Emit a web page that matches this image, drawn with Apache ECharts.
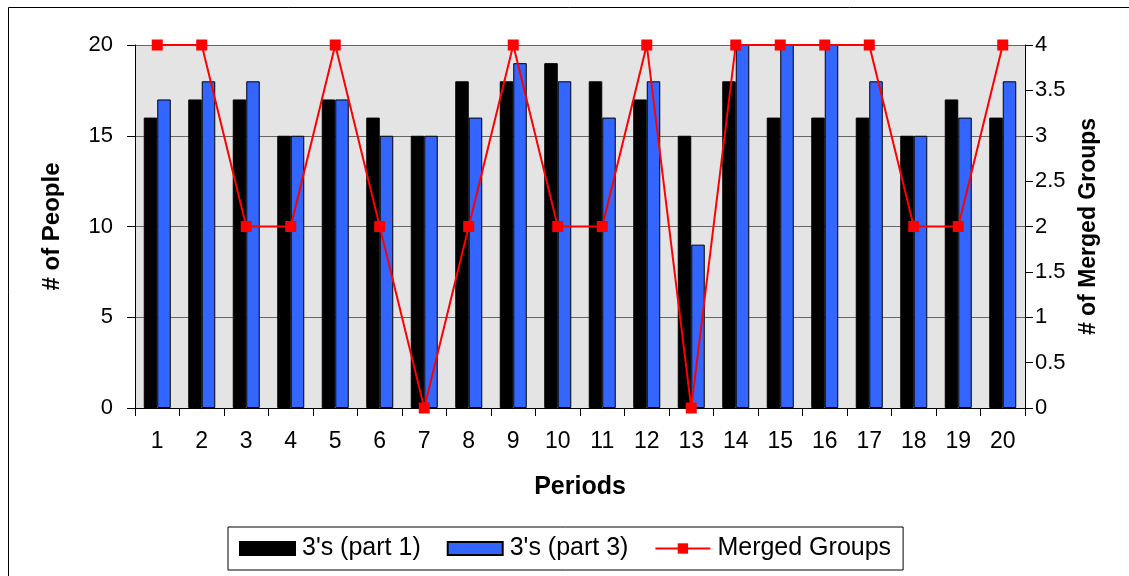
<!DOCTYPE html>
<html>
<head>
<meta charset="utf-8">
<script src="https://cdn.jsdelivr.net/npm/echarts@6/dist/echarts.min.js"></script>
<style>
  html, body { margin: 0; padding: 0; background: #fff; }
  #chart { width: 1129px; height: 576px; }
</style>
</head>
<body>
<div id="chart"></div>
<script>
// Periods on the x axis
const periods = ['1','2','3','4','5','6','7','8','9','10','11','12','13','14','15','16','17','18','19','20'];
// Number of people per period
const part1 = [16,17,17,15,17,16,15,18,18,19,18,17,15,18,16,16,16,15,17,16];
const part3 = [17,18,18,15,17,15,15,16,19,18,16,18,9,20,20,20,18,15,16,18];
// Number of merged groups per period (right axis)
const merged = [4,4,2,2,4,2,0,2,4,2,2,4,0,4,4,4,4,2,2,4];

const FONT = 'Liberation Sans, Arial, sans-serif';

const chart = echarts.init(document.getElementById('chart'), null, { renderer: 'canvas' });

chart.setOption({
  backgroundColor: '#ffffff',
  animation: false,
  textStyle: { fontFamily: FONT, color: '#000' },
  graphic: [{
    type: 'rect',
    shape: { x: 8.5, y: 7.5, width: 1130, height: 580 },
    style: { fill: 'none', stroke: '#000', lineWidth: 1 },
    silent: true,
    z: -10
  }],
  grid: {
    left: 135, right: 104, top: 45, bottom: 168,
    show: true,
    backgroundColor: '#e4e4e4',
    borderWidth: 0
  },
  legend: {
    left: 228, top: 527,
    padding: [8, 12, 8, 11],
    itemGap: 26,
    itemWidth: 55, itemHeight: 13,
    borderColor: '#000', borderWidth: 1,
    textStyle: { fontFamily: FONT, fontSize: 25, color: '#000', lineHeight: 27, padding: [0, 0, 0, 2] },
    data: [
      { name: "3's (part 1)", icon: 'rect' },
      { name: "3's (part 3)", icon: 'rect' },
      { name: 'Merged Groups' }
    ]
  },
  xAxis: {
    type: 'category',
    data: periods,
    boundaryGap: true,
    name: 'Periods',
    nameLocation: 'middle',
    nameGap: 67,
    nameTextStyle: { fontFamily: FONT, fontSize: 25, fontWeight: 'bold', color: '#000' },
    axisLine: { lineStyle: { color: '#000', width: 1 } },
    axisTick: { show: true, length: 8, lineStyle: { color: '#000' } },
    axisLabel: { fontFamily: FONT, fontSize: 23, color: '#000', margin: 22 },
    splitLine: { show: false }
  },
  yAxis: [{
    type: 'value',
    min: 0, max: 20, interval: 5,
    name: '# of People',
    nameLocation: 'middle',
    nameRotate: 90,
    nameGap: 71,
    nameTextStyle: { fontFamily: FONT, fontSize: 24, fontWeight: 'bold', color: '#000' },
    axisLine: { show: true, lineStyle: { color: '#000' } },
    axisTick: { show: true, length: 8, lineStyle: { color: '#000' } },
    axisLabel: { fontFamily: FONT, fontSize: 22, color: '#000', margin: 22 },
    splitLine: { show: true, lineStyle: { color: '#666', width: 1 } }
  }, {
    type: 'value',
    min: 0, max: 4, interval: 0.5,
    name: '# of Merged Groups',
    nameLocation: 'middle',
    nameRotate: 90,
    nameGap: 52,
    nameTextStyle: { fontFamily: FONT, fontSize: 23, fontWeight: 'bold', color: '#000' },
    axisLine: { show: true, lineStyle: { color: '#000' } },
    axisTick: { show: true, length: 8, lineStyle: { color: '#000' } },
    axisLabel: { fontFamily: FONT, fontSize: 22, color: '#000', margin: 10 },
    splitLine: { show: false }
  }],
  series: [{
    name: "3's (part 1)",
    type: 'bar',
    data: part1,
    barWidth: 13.5,
    barGap: '0%',
    itemStyle: { color: '#000000', borderColor: '#000', borderWidth: 1 }
  }, {
    name: "3's (part 3)",
    type: 'bar',
    data: part3,
    barWidth: 13.5,
    barGap: '0%',
    itemStyle: { color: '#3366ff', borderColor: '#000', borderWidth: 1 }
  }, {
    name: 'Merged Groups',
    type: 'line',
    yAxisIndex: 1,
    data: merged,
    symbol: 'rect',
    symbolSize: 11,
    lineStyle: { color: '#ff0000', width: 2 },
    itemStyle: { color: '#ff0000' },
    z: 5
  }]
});
</script>
</body>
</html>
